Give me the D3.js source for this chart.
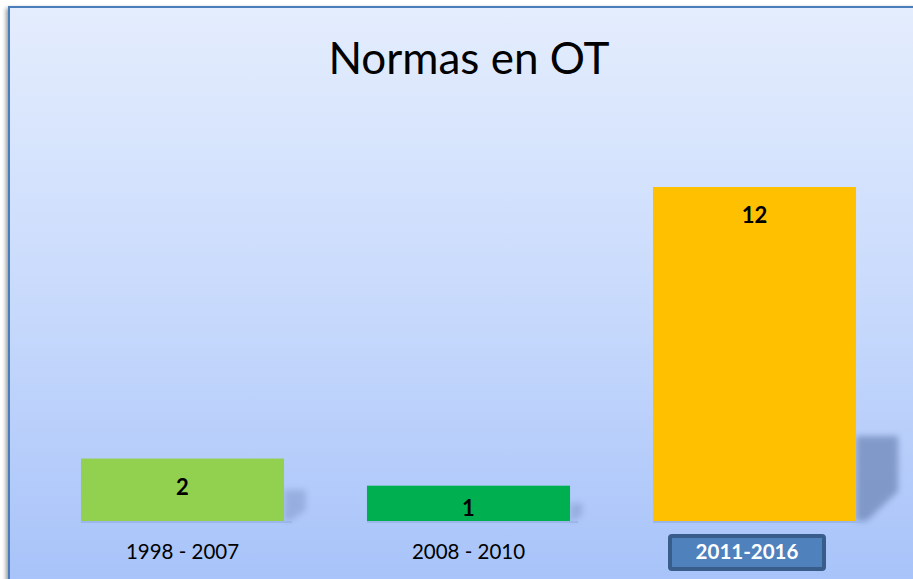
<!DOCTYPE html>
<html>
<head>
<meta charset="utf-8">
<script src="https://cdn.jsdelivr.net/npm/d3@7"></script>
<style>
  html, body { margin: 0; padding: 0; background: #fff; overflow: hidden; }
  svg { display: block; }
</style>
</head>
<body>
<div id="grafico"></div>
<script>
// Datos del gráfico
var periodos = ["1998 - 2007", "2008 - 2010", "2011-2016"];
var normas = [2, 1, 12];
var colores = ["#92D050", "#00B050", "#FFC000"];
var titulo = "Normas en OT";

var W = 913, H = 579;

var svg = d3.select("#grafico")
    .append("svg")
    .attr("width", W)
    .attr("height", H);

var defs = svg.append("defs");

// degradado del fondo
var grad = defs.append("linearGradient")
    .attr("id", "fondo")
    .attr("x1", 0).attr("y1", 0).attr("x2", 0).attr("y2", 1);
grad.append("stop").attr("offset", "0%").attr("stop-color", "#E4EDFD");
grad.append("stop").attr("offset", "50%").attr("stop-color", "#C8DAFC");
grad.append("stop").attr("offset", "100%").attr("stop-color", "#A6C2F9");

// sombra de las barras
var blur = defs.append("filter").attr("id", "difuso")
    .attr("x", "-50%").attr("y", "-50%").attr("width", "200%").attr("height", "200%");
blur.append("feGaussianBlur").attr("stdDeviation", 3);

var sombraMarco = defs.append("filter").attr("id", "sombraMarco")
    .attr("x", "-5%").attr("y", "-5%").attr("width", "110%").attr("height", "110%");
sombraMarco.append("feGaussianBlur").attr("stdDeviation", 2);

// marco
svg.append("rect")
    .attr("x", 6).attr("y", 8).attr("width", W).attr("height", H)
    .attr("fill", "#999").attr("filter", "url(#sombraMarco)");
svg.append("rect")
    .attr("x", 9).attr("y", 7).attr("width", W + 10).attr("height", H + 10)
    .attr("fill", "url(#fondo)")
    .attr("stroke", "#4A7EBB")
    .attr("stroke-width", 2);

// escalas
var x = d3.scaleBand()
    .domain(periodos)
    .range([39.5, 897.5])
    .paddingInner(0.29)
    .paddingOuter(0.145);

// el eje del original arranca un poco por debajo de cero
var y = d3.scaleLinear()
    .domain([-0.3, 12])
    .range([521, 187]);

var datos = periodos.map(function (p, i) { return { periodo: p, valor: normas[i], color: colores[i] }; });

// sombras a la derecha de cada barra
svg.selectAll(".sombra")
    .data(datos)
    .enter()
    .append("polygon")
    .attr("class", "sombra")
    .attr("fill", "#7088B8")
    .attr("opacity", function (d) { return d.valor > 5 ? 0.75 : 0.4; })
    .attr("filter", "url(#difuso)")
    .attr("points", function (d) {
        var r = x(d.periodo) + x.bandwidth();
        var b = y.range()[0];
        var h = b - y(d.valor);
        var alto = Math.min(85, h * 0.5);
        var ancho = Math.min(42, h * 0.35);
        return [
            [r, b - alto], [r + ancho, b - alto],
            [r + ancho, b - alto * 0.35], [r + ancho * 0.25, b], [r, b]
        ].map(function (p) { return p.join(","); }).join(" ");
    });

// línea fina bajo las barras
svg.selectAll(".base")
    .data(datos)
    .enter()
    .append("rect")
    .attr("x", function (d) { return x(d.periodo); })
    .attr("y", y.range()[0])
    .attr("width", x.bandwidth() + 8)
    .attr("height", 2)
    .attr("fill", "#9DB6EA");

// barras
svg.selectAll(".barra")
    .data(datos)
    .enter()
    .append("rect")
    .attr("class", "barra")
    .attr("x", function (d) { return x(d.periodo); })
    .attr("y", function (d) { return y(d.valor); })
    .attr("width", x.bandwidth())
    .attr("height", function (d) { return y.range()[0] - y(d.valor); })
    .attr("fill", function (d) { return d.color; });

// etiquetas de valor
svg.selectAll(".valor")
    .data(datos)
    .enter()
    .append("text")
    .attr("class", "valor")
    .attr("x", function (d) { return x(d.periodo) + x.bandwidth() / 2; })
    .attr("y", function (d) { return Math.min(y(d.valor) + 36, y.range()[0] - 5); })
    .attr("text-anchor", "middle")
    .style("font-family", "Lato, 'Open Sans', sans-serif")
    .style("font-weight", "bold")
    .style("font-size", "22px")
    .attr("fill", "#000")
    .text(function (d) { return d.valor; });

// caja resaltada para la última categoría
var ult = periodos[periodos.length - 1];
function centroCat(p) {
    // la última etiqueta está algo desplazada a la izquierda en el original
    return x(p) + x.bandwidth() / 2 - (p === ult ? 7.5 : 0);
}
var cx = centroCat(ult);
svg.append("rect")
    .attr("x", cx - 77).attr("y", 536)
    .attr("width", 154).attr("height", 33)
    .attr("rx", 2)
    .attr("fill", "#4F81BD")
    .attr("stroke", "#385D8A")
    .attr("stroke-width", 4);

// etiquetas de categoría
svg.selectAll(".cat")
    .data(datos)
    .enter()
    .append("text")
    .attr("class", "cat")
    .attr("x", function (d) { return centroCat(d.periodo); })
    .attr("y", 559)
    .attr("text-anchor", "middle")
    .style("font-family", "Lato, 'Open Sans', sans-serif")
    .style("font-size", "20.5px")
    .style("font-weight", function (d) { return d.periodo === ult ? "bold" : "normal"; })
    .attr("fill", function (d) { return d.periodo === ult ? "#fff" : "#000"; })
    .text(function (d) { return d.periodo; });

// título
svg.append("text")
    .attr("x", 469)
    .attr("y", 74)
    .attr("text-anchor", "middle")
    .style("font-family", "Lato, 'Open Sans', sans-serif")
    .style("font-size", "44px")
    .attr("fill", "#000")
    .text(titulo);
</script>
</body>
</html>
